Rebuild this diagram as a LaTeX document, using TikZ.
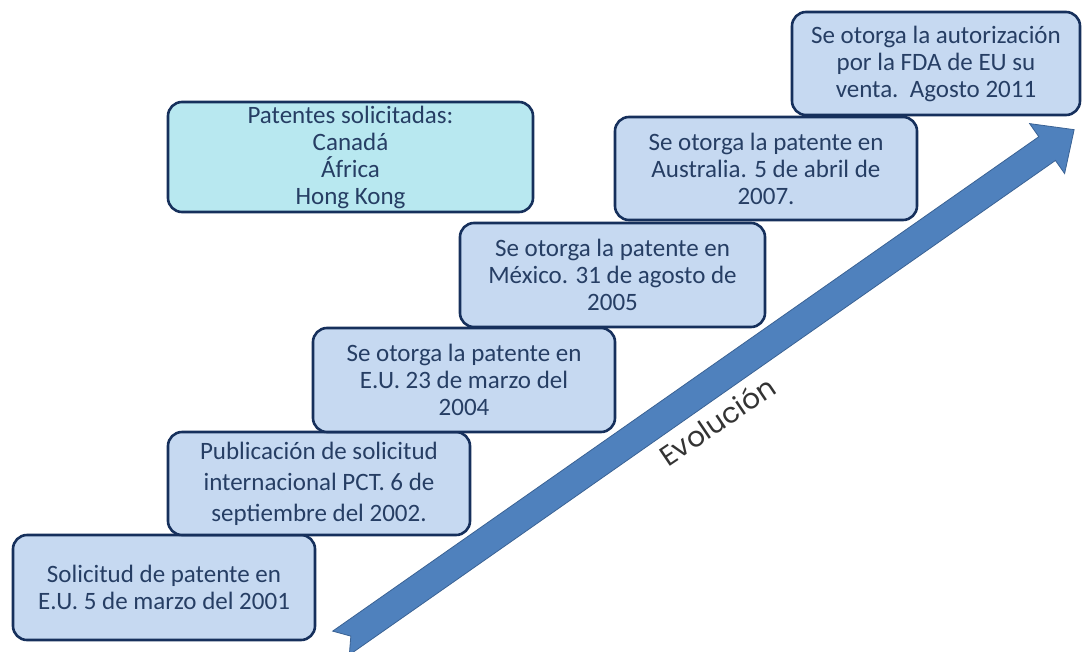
\documentclass[tikz,border=0pt]{standalone}
\usepackage{fontspec}
\setmainfont{Carlito}
\newfontfamily\evofont{Poppins}
\definecolor{boxfill}{RGB}{198,217,241}
\definecolor{cyanfill}{RGB}{184,232,240}
\definecolor{boxline}{RGB}{22,48,92}
\definecolor{boxtext}{RGB}{38,62,100}
\definecolor{arrowfill}{RGB}{79,129,189}
\definecolor{arrowline}{RGB}{58,98,148}
\begin{document}
\begin{tikzpicture}[x=1pt,y=-1pt,
  stage/.style={draw=boxline, line width=2.6pt, fill=boxfill,
    rounded corners=14pt, align=center, text=boxtext, inner sep=0pt,
    font=\fontsize{25}{27}\selectfont},
  evolabel/.style={font=\evofont\fontsize{28}{30}\selectfont, text=black!80}
]
\useasboundingbox (0,0) rectangle (1082,651);

% the rising "evolution" block arrow with a notched tail
\begin{scope}[shift={(341,643)}, rotate=35, x=1pt, y=1pt]
  \draw[fill=arrowfill, draw=arrowline, line width=0.8pt, line join=miter]
    (0,14.5) -- (862,14.5) -- (862,30.5) -- (895,0) -- (862,-30.5)
    -- (862,-14.5) -- (0,-14.5) -- (12,0) -- cycle;
\end{scope}
\node[evolabel, rotate=34, anchor=base] (evo) at (723,430) {Evolución};

% milestones, one step per row
\node[stage, minimum width=302pt, minimum height=105pt] (s2001) at (164,587.5)
  {Solicitud de patente en\\E.U. 5 de marzo del 2001};
\node[stage, minimum width=302pt, minimum height=103pt,
      font=\fontsize{25}{31}\selectfont] (s2002) at (319,483.5)
  {Publicación de solicitud\\internacional PCT. 6 de\\septiembre del 2002.};
\node[stage, minimum width=302pt, minimum height=104pt] (s2004) at (464,380)
  {Se otorga la patente en\\E.U. 23 de marzo del\\2004};
\node[stage, minimum width=305pt, minimum height=104pt] (s2005) at (612.5,275)
  {Se otorga la patente en\\México. 31 de agosto de\\2005};
\node[stage, minimum width=302pt, minimum height=103pt] (s2007) at (766,168.5)
  {Se otorga la patente en\\Australia. 5 de abril de\\2007.};
\node[stage, minimum width=288pt, minimum height=103pt] (s2011) at (936,63.5)
  {Se otorga la autorización\\por la FDA de EU su\\venta.\ \ Agosto 2011};

% countries with pending applications
\node[stage, fill=cyanfill, minimum width=365pt, minimum height=110pt] (paises) at (350.5,157)
  {Patentes solicitadas:\\Canadá\\África\\Hong Kong};
\end{tikzpicture}
\end{document}
